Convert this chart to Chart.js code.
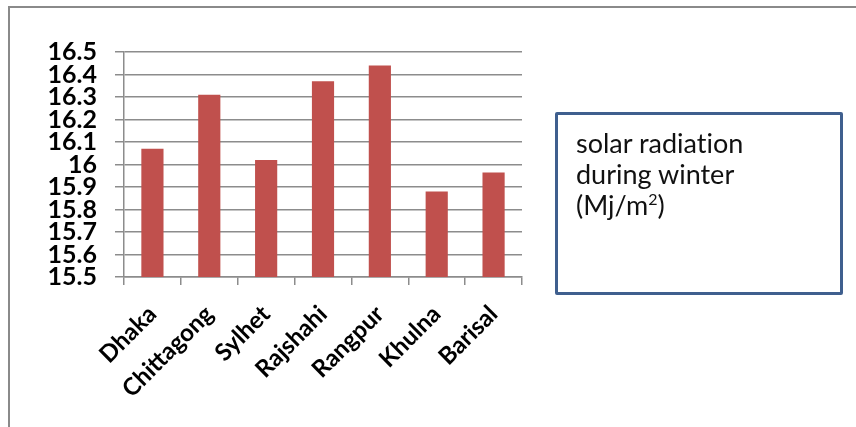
<!DOCTYPE html>
<html>
<head>
<meta charset="utf-8">
<script src="https://cdn.jsdelivr.net/npm/chart.js@4.4.1/dist/chart.umd.min.js"></script>
<style>
  html, body { margin: 0; padding: 0; background: #fff; }
  #wrap { position: relative; width: 856px; height: 427px; overflow: hidden; }
  #frame {
    position: absolute; left: 8px; top: 6px; width: 900px; height: 500px;
    border-left: 2px solid #8a8a8a; border-top: 2px solid #8a8a8a;
  }
  #legendBox {
    position: absolute; left: 555px; top: 112px; width: 264px; height: 165px;
    border: 3px solid #3f5f8e; border-radius: 2px;
    font-family: Lato, "Open Sans", sans-serif; font-size: 27px; line-height: 31px;
    font-variant-ligatures: none;
    color: #111; padding: 12px 0 0 18px; box-sizing: content-box;
  }
  #legendBox sup { font-size: 16px; line-height: 0; vertical-align: 10px; }
</style>
</head>
<body>
<div id="wrap">
  <canvas id="chart" width="856" height="427"></canvas>
  <div id="frame"></div>
  <div id="legendBox">solar radiation<br>during winter<br>(Mj/m<sup>2</sup>)</div>
</div>
<script>
// ===== DATOS =====
const cities = ['Dhaka', 'Chittagong', 'Sylhet', 'Rajshahi', 'Rangpur', 'Khulna', 'Barisal'];
const winterRadiation = [16.07, 16.31, 16.02, 16.37, 16.44, 15.88, 15.965];
const yMin = 15.5;
const yMax = 16.5;
const yStep = 0.1;

const gridColor = '#8c8c8c';

const ctx = document.getElementById('chart');
new Chart(ctx, {
  type: 'bar',
  data: {
    labels: cities,
    datasets: [{
      label: 'solar radiation during winter (Mj/m²)',
      data: winterRadiation,
      backgroundColor: '#c0504d',
      borderWidth: 0,
      categoryPercentage: 1,
      barPercentage: 0.39
    }]
  },
  options: {
    responsive: false,
    animation: false,
    layout: { padding: { left: 0, right: 334, top: 52, bottom: 0 } },
    plugins: {
      legend: { display: false },
      tooltip: { enabled: false }
    },
    scales: {
      x: {
        grid: {
          display: true, drawOnChartArea: false, drawTicks: true,
          tickLength: 8, color: gridColor, lineWidth: 1.5, offset: true
        },
        border: { display: true, color: gridColor, width: 1.5 },
        ticks: {
          color: '#000', maxRotation: 45, minRotation: 45, autoSkip: false,
          padding: 15,
          font: { family: 'Lato, "Open Sans", sans-serif', size: 24, weight: 'bold' }
        },
        afterFit: (scale) => { scale.height = 150; }
      },
      y: {
        min: yMin,
        max: yMax,
        grid: {
          color: gridColor, lineWidth: 1.5, drawTicks: true, tickLength: 9
        },
        border: { display: true, color: gridColor, width: 1.5 },
        ticks: {
          stepSize: yStep, autoSkip: false, color: '#000', padding: 18,
          font: { family: 'Lato, "Open Sans", sans-serif', size: 25, weight: 'bold' },
          callback: (v) => String(Number(v.toFixed(1)))
        },
        afterFit: (scale) => { scale.width = 124; }
      }
    }
  }
});
</script>
</body>
</html>
